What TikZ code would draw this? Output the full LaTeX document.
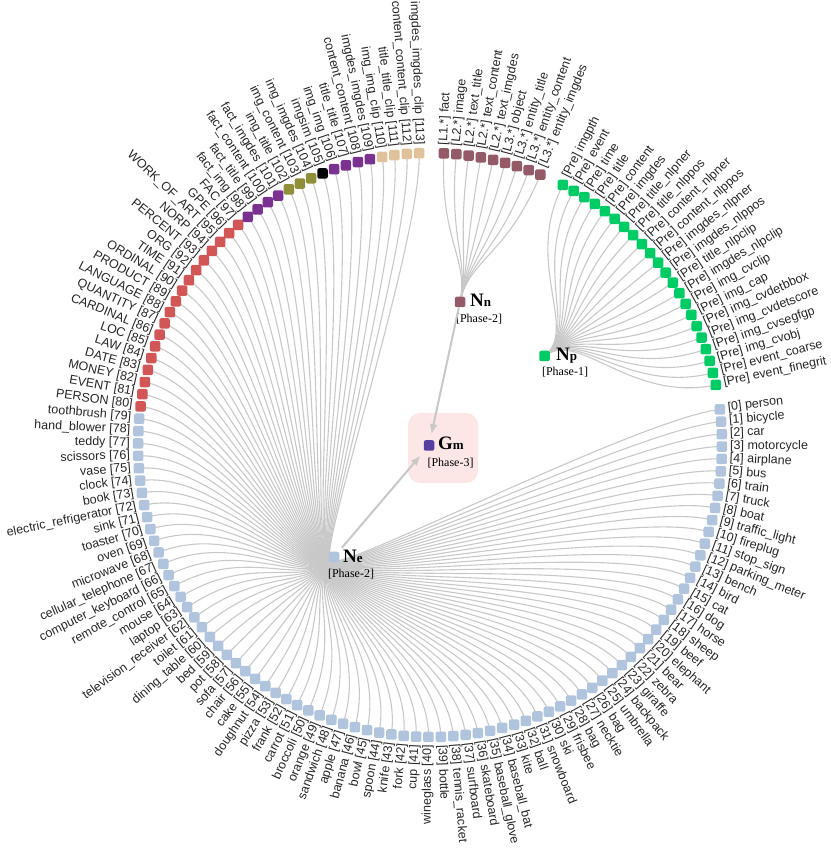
\documentclass[tikz,border=0pt]{standalone}
\usepackage{fontspec}
\setmainfont{Liberation Sans}
\newfontfamily\serif{Liberation Serif}
\usetikzlibrary{arrows.meta,calc}
\pgfdeclarelayer{bg}
\pgfsetlayers{bg,main}
\definecolor{cblue}{HTML}{B0C4DE}
\definecolor{cred}{HTML}{D35656}
\definecolor{cpurple}{HTML}{7B3190}
\definecolor{colive}{HTML}{8F8F3A}
\definecolor{ctan}{HTML}{DFC29A}
\definecolor{cmauve}{HTML}{955A68}
\definecolor{cgreen}{HTML}{00CC66}
\definecolor{cindigo}{HTML}{5540A0}
\definecolor{cpink}{HTML}{FDE6E6}
\definecolor{cedge}{HTML}{C8C8C8}
\begin{document}
\begin{tikzpicture}[x=1pt,y=1pt,
  leaf/.style={rectangle, rounded corners=2pt, minimum size=10.5pt, inner sep=0pt},
  lbl/.style={font=\fontsize{12.5}{12.5}\selectfont, text=black!85, inner sep=0pt},
  edge/.style={draw=cedge, line width=1.1pt},
  hub/.style={rectangle, rounded corners=2pt, minimum size=10.5pt, inner sep=0pt},
  big/.style={font=\serif\bfseries\fontsize{19}{19}\selectfont, inner sep=0pt, anchor=base west},
  phase/.style={font=\serif\fontsize{12}{12}\selectfont, inner sep=0pt, anchor=base},
  arr/.style={draw=cedge, line width=2pt, -{Latex[length=10pt,width=8pt]}}
]
\useasboundingbox (0,0) rectangle (830,848);
\coordinate (O) at (430,403);
\def\R{292}
\def\Rc{205}
\def\st{2.432432}
\def\thz{7}

\begin{pgfonlayer}{bg}
\node[fill=cpink, rounded corners=12pt, minimum width=70pt, minimum height=70pt, inner sep=0pt] (box) at (443,400) {};
\end{pgfonlayer}

% hubs
\node[hub, fill=cindigo] (Gm) at (429,402.5) {};
\node[hub, fill=cblue] (Ne) at (334,291) {};
\node[hub, fill=cmauve] (Nn) at (460,546) {};
\node[hub, fill=cgreen] (Np) at (544.5,492) {};
\coordinate (NeC) at ($(Ne)!-0.3!(O)$);
\coordinate (NnC) at ($(Nn)!-0.3!(O)$);
\coordinate (NpC) at ($(Np)!-0.3!(O)$);

\node[big] (GmT) at (438,398) {G{\fontsize{13}{13}\selectfont m}};
\node[big] (NeT) at (343,285) {N{\fontsize{13}{13}\selectfont e}};
\node[big] (NnT) at (470,541) {N{\fontsize{13}{13}\selectfont n}};
\node[big] (NpT) at (556,487) {N{\fontsize{13}{13}\selectfont p}};
\node[phase] (GmP) at (450.5,381) {[Phase-3]};
\node[phase] (NeP) at (351,270) {[Phase-2]};
\node[phase] (NnP) at (479,525) {[Phase-2]};
\node[phase] (NpP) at (565,472) {[Phase-1]};

% entity leaves
\foreach \i/\t in {0/person,1/bicycle,2/car,3/motorcycle,4/airplane,5/bus,6/train,7/truck,8/boat,9/traffic\_light,10/fireplug,11/stop\_sign,12/parking\_meter,13/bench,14/bird,15/cat,16/dog,17/horse,18/sheep,19/beef,20/elephant,21/bear,22/zebra,23/giraffe,24/backpack,25/umbrella,26/bag,27/necktie,28/bag,29/frisbee,30/ski,31/snowboard,32/ball,33/kite,34/baseball\_bat,35/baseball\_glove,36/skateboard,37/surfboard,38/tennis\_racket,39/bottle,40/wineglass,41/cup,42/fork,43/knife,44/spoon,45/bowl,46/banana,47/apple,48/sandwich,49/orange,50/broccoli,51/carrot,52/frank,53/pizza,54/doughnut,55/cake,56/chair,57/sofa,58/pot,59/bed,60/dining\_table,61/toilet,62/television\_receiver,63/laptop,64/mouse,65/remote\_control,66/computer\_keyboard,67/cellular\_telephone,68/microwave,69/oven,70/toaster,71/sink,72/electric\_refrigerator,73/book,74/clock,75/vase,76/scissors,77/teddy,78/hand\_blower,79/toothbrush,80/PERSON,81/EVENT,82/MONEY,83/DATE,84/LAW,85/LOC,86/CARDINAL,87/QUANTITY,88/LANGUAGE,89/PRODUCT,90/ORDINAL,91/TIME,92/ORG,93/PERCENT,94/NORP,95/WORK\_OF\_ART,96/GPE,97/FAC,98/fact\_img,99/fact\_title,100/fact\_content,101/fact\_imgdes,102/img\_title,103/img\_content,104/img\_imgdes,105/imgsim,106/img\_img,107/title\_title,108/content\_content,109/imgdes\_imgdes,110/img\_img\_clip,111/title\_title\_clip,112/content\_content\_clip,113/imgdes\_imgdes\_clip} {
  \pgfmathsetmacro\a{\thz-\i*\st}
  \pgfmathsetmacro\side{cos(\a)>0 ? 1 : 0}
  \def\ecol{cblue}
  \ifnum\i>79 \def\ecol{cred}\fi
  \ifnum\i>97 \def\ecol{cpurple}\fi
  \ifnum\i>101 \def\ecol{colive}\fi
  \ifnum\i>104 \def\ecol{black}\fi
  \ifnum\i>105 \def\ecol{cpurple}\fi
  \ifnum\i>109 \def\ecol{ctan}\fi
  \node[leaf, fill=\ecol] (e\i) at ($(O)+(\a:\R)$) {};
  \ifdim\side pt>0.5pt
    \node[lbl, rotate=\a, anchor=mid west] (te\i) at ($(O)+(\a:\R+8)$) {[\i] \t};
  \else
    \node[lbl, rotate=\a+180, anchor=mid east] (te\i) at ($(O)+(\a:\R+8)$) {\t{} [\i]};
  \fi
  \begin{pgfonlayer}{bg}
    \draw[edge] (Ne.center) .. controls (NeC) and ($(O)+(\a:\Rc)$) .. (e\i.center);
  \end{pgfonlayer}
}

% Nn leaves
\foreach \j/\t in {0/{[L1.*] fact},1/{[L2.*] image},2/{[L2.*] text\_title},3/{[L2.*] text\_content},4/{[L2.*] text\_imgdes},5/{[L3.*] object},6/{[L3.*] entity\_title},7/{[L3.*] entity\_content},8/{[L3.*] entity\_imgdes}} {
  \pgfmathsetmacro\a{\thz-(\j+115)*\st}
  \node[leaf, fill=cmauve] (n\j) at ($(O)+(\a:\R)$) {};
  \node[lbl, rotate=\a, anchor=mid west] (tn\j) at ($(O)+(\a:\R+8)$) {\t};
  \begin{pgfonlayer}{bg}
    \draw[edge] (Nn.center) .. controls (NnC) and ($(O)+(\a:\Rc)$) .. (n\j.center);
  \end{pgfonlayer}
}

% Np leaves
\foreach \j/\t in {0/imgpth,1/event,2/time,3/title,4/content,5/imgdes,6/title\_nlpner,7/title\_nlppos,8/content\_nlpner,9/content\_nlppos,10/imgdes\_nlpner,11/imgdes\_nlppos,12/title\_nlpclip,13/imgdes\_nlpclip,14/img\_cvclip,15/img\_cap,16/img\_cvdetbbox,17/img\_cvdetscore,18/img\_cvsegfgp,19/img\_cvobj,20/event\_coarse,21/event\_finegrit} {
  \pgfmathsetmacro\a{\thz-(\j+125)*\st}
  \node[leaf, fill=cgreen] (p\j) at ($(O)+(\a:\R)$) {};
  \node[lbl, rotate=\a, anchor=mid west] (tp\j) at ($(O)+(\a:\R+8)$) {[Pre] \t};
  \begin{pgfonlayer}{bg}
    \draw[edge] (Np.center) .. controls (NpC) and ($(O)+(\a:\Rc)$) .. (p\j.center);
  \end{pgfonlayer}
}

\draw[arr, shorten >=6pt] (Nn) -- (Gm);
\draw[arr, shorten >=6pt, shorten <=5pt] (Ne) -- (Gm);
\end{tikzpicture}
\end{document}
